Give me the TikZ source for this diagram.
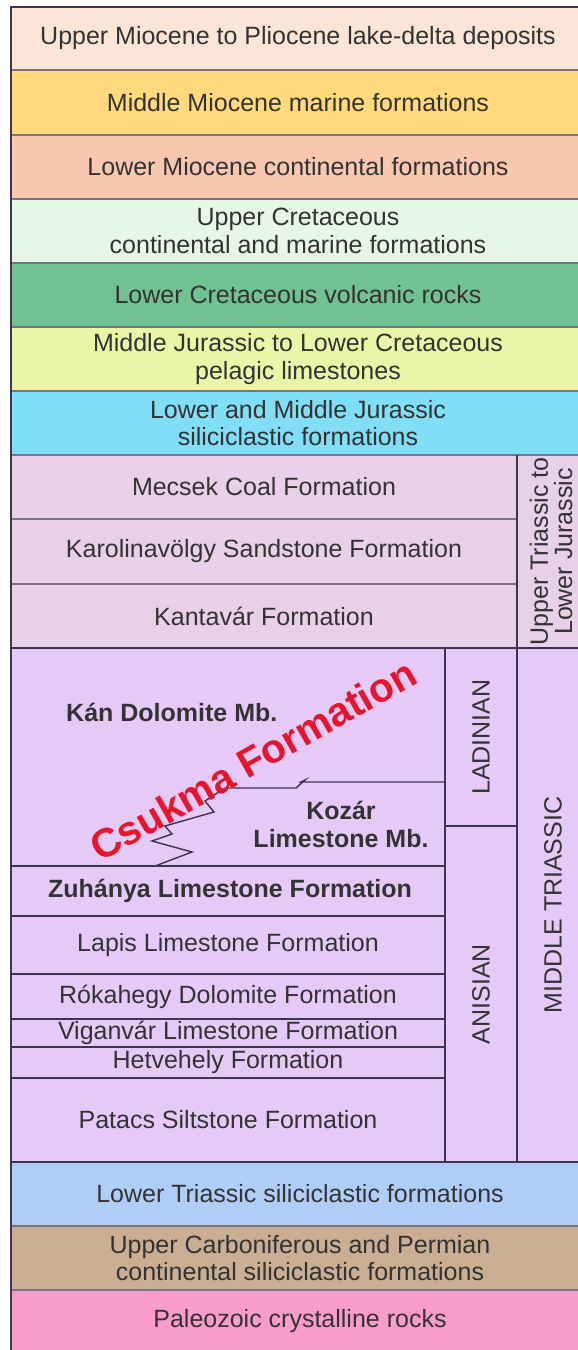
\documentclass[tikz,border=0pt]{standalone}
\usepackage{fontspec}
\setmainfont{Liberation Sans}
\usepackage{xcolor}
\usepackage{tikz}
\usetikzlibrary{shapes,fit,calc,positioning}

\definecolor{upmio}{HTML}{FCE4D6}
\definecolor{midmio}{HTML}{FFD97C}
\definecolor{lowmio}{HTML}{F9C7AF}
\definecolor{upcret}{HTML}{E7F7E5}
\definecolor{volc}{HTML}{72C190}
\definecolor{pelag}{HTML}{EBF5A8}
\definecolor{jursil}{HTML}{80DEF7}
\definecolor{uptri}{HTML}{E8D0E8}
\definecolor{midtri}{HTML}{E5C9F7}
\definecolor{lowtri}{HTML}{AFCEF7}
\definecolor{carb}{HTML}{C9AE93}
\definecolor{paleo}{HTML}{F99CCB}
\definecolor{sepline}{HTML}{7D7285}
\definecolor{unitline}{HTML}{3E3350}
\definecolor{csukred}{HTML}{E8142B}

\begin{document}
\begin{tikzpicture}[
	x=1pt, y=-1pt,
	every node/.style = {align=center, inner sep=0pt, text=black!80,
	font=\fontsize{25}{27.5}\selectfont},
	unit/.style = {font=\fontsize{25}{28}\selectfont\bfseries},
	vert/.style = {rotate=90, font=\fontsize{25}{23}\selectfont},
	sep/.style = {draw=sepline, line width=1.2pt},
	bound/.style = {draw=unitline, line width=1.8pt}
]
\useasboundingbox (0,0) rectangle (578,1350);
\fill[white] (0,0) rectangle (578,1350);
\clip (0,0) rectangle (578,1350);

% colour bands
\fill[upmio] (11,7) rectangle (590,70);
\fill[midmio] (11,70) rectangle (590,135);
\fill[lowmio] (11,135) rectangle (590,199);
\fill[upcret] (11,199) rectangle (590,263);
\fill[volc] (11,263) rectangle (590,327);
\fill[pelag] (11,327) rectangle (590,391);
\fill[jursil] (11,391) rectangle (590,455);
\fill[uptri] (11,455) rectangle (590,648);
\fill[midtri] (11,648) rectangle (590,1162);
\fill[lowtri] (11,1162) rectangle (590,1226);
\fill[carb] (11,1226) rectangle (590,1290);
\fill[paleo] (11,1290) rectangle (590,1360);

% separators
\draw[sep] (11,70) -- (590,70);
\draw[sep] (11,135) -- (590,135);
\draw[sep] (11,199) -- (590,199);
\draw[sep] (11,263) -- (590,263);
\draw[sep] (11,327) -- (590,327);
\draw[sep] (11,391) -- (590,391);
\draw[sep] (11,455) -- (590,455);
\draw[sep] (11,519) -- (517,519);
\draw[sep] (11,584) -- (517,584);
\draw[sep] (11,1226) -- (590,1226);
\draw[sep] (11,1290) -- (590,1290);

% triassic units
\draw[bound] (11,648) -- (590,648);
\draw[bound] (11,1162) -- (590,1162);
\draw[bound] (517,455) -- (517,1162);
\draw[bound] (445,648) -- (445,1162);
\draw[bound] (445,826) -- (517,826);
\draw[bound] (11,866) -- (445,866);
\draw[bound] (11,916) -- (445,916);
\draw[bound] (11,974) -- (445,974);
\draw[bound] (11,1019) -- (445,1019);
\draw[bound] (11,1047) -- (445,1047);
\draw[bound] (11,1078) -- (445,1078);
\draw[bound, line width=1.4pt] (225,788) -- (296,788) -- (305,780) -- (301,782) -- (445,782);
\draw[bound, line width=1.4pt] (225,788) -- (205,801) -- (214,812) -- (165,826)
	-- (172,834) -- (152,841) -- (192,852) -- (155,866);

% frame
\draw[draw=unitline, line width=1.6pt] (590,7) -- (11,7) -- (11,1360);

\node (upmio) at (298,38.5) {Upper Miocene to Pliocene lake-delta deposits};
\node (midmio) at (298,102.5) {Middle Miocene marine formations};
\node (lowmio) at (298,167) {Lower Miocene continental formations};
\node (upcret) at (298,231) {Upper Cretaceous\\continental and marine formations};
\node (volc) at (298,295) {Lower Cretaceous volcanic rocks};
\node (pelag) at (298,359) {Middle Jurassic to Lower Cretaceous\\pelagic limestones};
\node (jursil) at (298,423) {Lower and Middle Jurassic\\siliciclastic formations};
\node (mecsek) at (264,487) {Mecsek Coal Formation};
\node (karol) at (264,551.5) {Karolinavölgy Sandstone Formation};
\node (kantavar) at (264,616) {Kantavár Formation};
\node[unit, anchor=west] (kan) at (66,712) {Kán Dolomite Mb.};
\node[unit] (kozar) at (341,824) {Kozár\\Limestone Mb.};
\node[unit] (zuhanya) at (230,891) {Zuhánya Limestone Formation};
\node (lapis) at (228,945) {Lapis Limestone Formation};
\node (rokahegy) at (228,996.5) {Rókahegy Dolomite Formation};
\node (viganvar) at (228,1033) {Viganvár Limestone Formation};
\node (hetvehely) at (228,1062.5) {Hetvehely Formation};
\node (patacs) at (228,1120) {Patacs Siltstone Formation};
\node (lowtri) at (300,1194) {Lower Triassic siliciclastic formations};
\node (carb) at (300,1258) {Upper Carboniferous and Permian\\continental siliciclastic formations};
\node (paleo) at (300,1321) {Paleozoic crystalline rocks};
\node[vert] (uptrijur) at (551,551.5) {Upper Triassic to\\Lower Jurassic};
\node[vert] (ladinian) at (481,737) {LADINIAN};
\node[vert] (anisian) at (481,994) {ANISIAN};
\node[vert] (midtri) at (553,905) {MIDDLE TRIASSIC};
\node[rotate=29.5, text=csukred, font=\fontsize{40.5}{42}\selectfont\bfseries] (csukma) at (253,760) {Csukma Formation};
\end{tikzpicture}
\end{document}
